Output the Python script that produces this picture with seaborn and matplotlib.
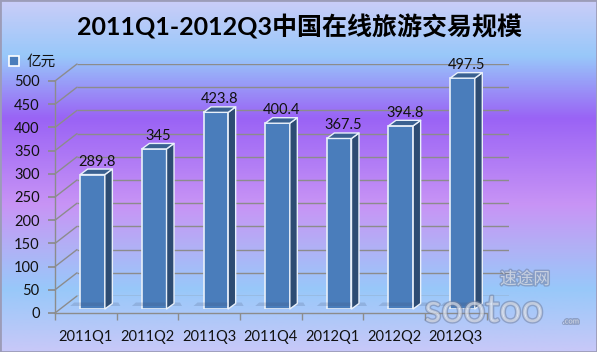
import numpy as np
import pandas as pd
import matplotlib
matplotlib.use("Agg")
import matplotlib.pyplot as plt
import matplotlib.patheffects as pe
import matplotlib.transforms as mtrans
from matplotlib.colors import LinearSegmentedColormap
from matplotlib.patches import Polygon, Patch, Rectangle
from matplotlib.lines import Line2D
import seaborn as sns

quarters = ["2011Q1", "2011Q2", "2011Q3", "2011Q4", "2012Q1", "2012Q2", "2012Q3"]
volume = [289.8, 345, 423.8, 400.4, 367.5, 394.8, 497.5]
y_ticks = list(range(0, 501, 50))
title = "2011Q1-2012Q3中国在线旅游交易规模"
unit = "亿元"

sns.set_theme(style="white")
plt.rcParams["font.family"] = ["Lato", "Noto Sans CJK SC", "DejaVu Sans"]

W, H = 597, 352
FRONT = "#4a7dbb"
SIDE = "#2d4c73"
TOP = "#3a6191"
GRID = "#8c8c8c"
DEPTH = (7.5, 5.5)          # px depth of each bar

fig = plt.figure(figsize=(W / 100, H / 100), dpi=100)

# gradient background
bg = fig.add_axes([0, 0, 1, 1], zorder=-10)
stops = [(0, "#cacdf8"), (55 / H, "#98c8fa"), (118 / H, "#9a63f5"),
         (205 / H, "#c894f5"), (250 / H, "#b0b2f6"), (290 / H, "#98c8fa"),
         (1, "#c8c8f8")]
cmap = LinearSegmentedColormap.from_list("bg", stops)
bg.imshow(np.linspace(0, 1, 400)[:, None], aspect="auto", cmap=cmap,
          extent=[0, 1, 0, 1], origin="upper")
bg.axis("off")


def plane(x0, y0):
    # x0: pixel x of category -0.5, y0: pixel y of value 0
    return [x0 / W, 1 - y0 / H, 431.6 / W, 232 / H]


ax_back = fig.add_axes(plane(77, 296))
ax_front = fig.add_axes(plane(55, 313))
ax = fig.add_axes(plane(61.7, 309))
for a in (ax_back, ax_front, ax):
    a.set_xlim(-0.5, 6.5)
    a.set_ylim(0, 500)
    a.patch.set_alpha(0)

# back wall gridlines
ax_back.hlines(y_ticks, -0.5, 6.5, color=GRID, lw=1)
ax_back.axis("off")

# diagonals from front axis to back wall
to_fig = fig.transFigure.inverted()
for v in y_ticks:
    p0 = to_fig.transform(ax_front.transData.transform((-0.5, v)))
    p1 = to_fig.transform(ax_back.transData.transform((-0.5, v)))
    fig.add_artist(Line2D([p0[0], p1[0]], [p0[1], p1[1]], color=GRID, lw=1,
                          transform=fig.transFigure, zorder=0.5))

# front axis
for s in ["top", "right"]:
    ax_front.spines[s].set_visible(False)
for s in ["left", "bottom"]:
    ax_front.spines[s].set_color(GRID)
    ax_front.spines[s].set_linewidth(1)
ax_front.set_yticks(y_ticks)
ax_front.set_xticks(range(len(quarters)))
ax_front.set_xticklabels(quarters)
ax_front.set_xticks(np.arange(-0.5, len(quarters)), minor=True)
ax_front.tick_params(axis="y", left=True, length=5, color=GRID, pad=6,
                     labelsize=10.5, labelcolor="#111111")
ax_front.tick_params(axis="x", which="major", bottom=True, length=0, pad=12,
                     labelsize=10.5, labelcolor="#111111")
ax_front.tick_params(axis="x", which="minor", bottom=True, length=5, color=GRID)

# bars (front faces)
df = pd.DataFrame({"quarter": quarters, "volume": volume})
sns.barplot(data=df, x="quarter", y="volume", ax=ax, width=0.4, color=FRONT,
            saturation=1, edgecolor="#e8f0fa", linewidth=1.2, zorder=3)
ax.set_xlim(-0.5, 6.5)
ax.set_ylim(0, 500)
ax.axis("off")

dx, dy = DEPTH
for p in ax.patches:
    x0, w, h = p.get_x(), p.get_width(), p.get_height()
    a = ax.transData.transform((x0, 0))
    b = ax.transData.transform((x0 + w, h))
    # soft floor shadow behind the bar
    sh = [(a[0] - 10, a[1] + 3), (b[0] + dx + 8, a[1] + 3),
          (b[0] + dx + 6, a[1] + dy + 1), (a[0] - 6, a[1] + dy + 1)]
    side = [(b[0], a[1]), (b[0], b[1]), (b[0] + dx, b[1] + dy), (b[0] + dx, a[1] + dy)]
    top = [(a[0], b[1]), (b[0], b[1]), (b[0] + dx, b[1] + dy), (a[0] + dx, b[1] + dy)]
    fig.add_artist(Polygon(to_fig.transform(sh), closed=True, facecolor="#3c4a6a",
                           edgecolor="none", alpha=0.18, transform=fig.transFigure, zorder=0.6))
    for pts, col in ((side, SIDE), (top, TOP)):
        fig.add_artist(Polygon(to_fig.transform(pts), closed=True, facecolor=col,
                               edgecolor="#e8f0fa", lw=1.0, joinstyle="round",
                               transform=fig.transFigure, zorder=4))

# value labels
lab_tr = mtrans.offset_copy(ax.transData, fig=fig, x=4, y=9, units="dots")
for i, v in enumerate(volume):
    ax.text(i, v, f"{v:g}", transform=lab_tr, ha="center", va="baseline",
            fontsize=10.5, color="#111111", zorder=6, clip_on=False)

# legend
fig.legend(handles=[Patch(facecolor=FRONT, edgecolor="white", lw=1.2, label=unit)],
           loc="center left", bbox_to_anchor=(9 / W, 1 - 62 / H), frameon=False,
           handlelength=0.7, handleheight=0.7, handletextpad=0.5,
           borderaxespad=0, borderpad=0, fontsize=10.5, labelcolor="#111111")

# title
fig.text(0.502, 1 - 27 / H, title, ha="center", va="center", fontsize=18,
         weight="bold", color="#000000")

# watermark
wm = [pe.withStroke(linewidth=2, foreground=(0.45, 0.5, 0.62, 0.55))]
fig.text(525 / W, 1 - 279 / H, "速途网", ha="center", va="center", fontsize=12,
         style="italic", color=(1, 1, 1, 0.45), path_effects=wm, zorder=7)
fig.text(484 / W, 1 - 311 / H, "sootoo", ha="center", va="center", fontsize=28,
         color=(1, 1, 1, 0.4), path_effects=wm, zorder=7)
fig.text(571 / W, 1 - 321 / H, ".com", ha="center", va="center", fontsize=5.5,
         color=(1, 1, 1, 0.5), path_effects=wm, zorder=7)

fig.add_artist(Rectangle((0, 0), 1, 1, transform=fig.transFigure, fill=False,
                         edgecolor="#9c9cb8", lw=2, zorder=10))

fig.savefig("out.png", dpi=100)
